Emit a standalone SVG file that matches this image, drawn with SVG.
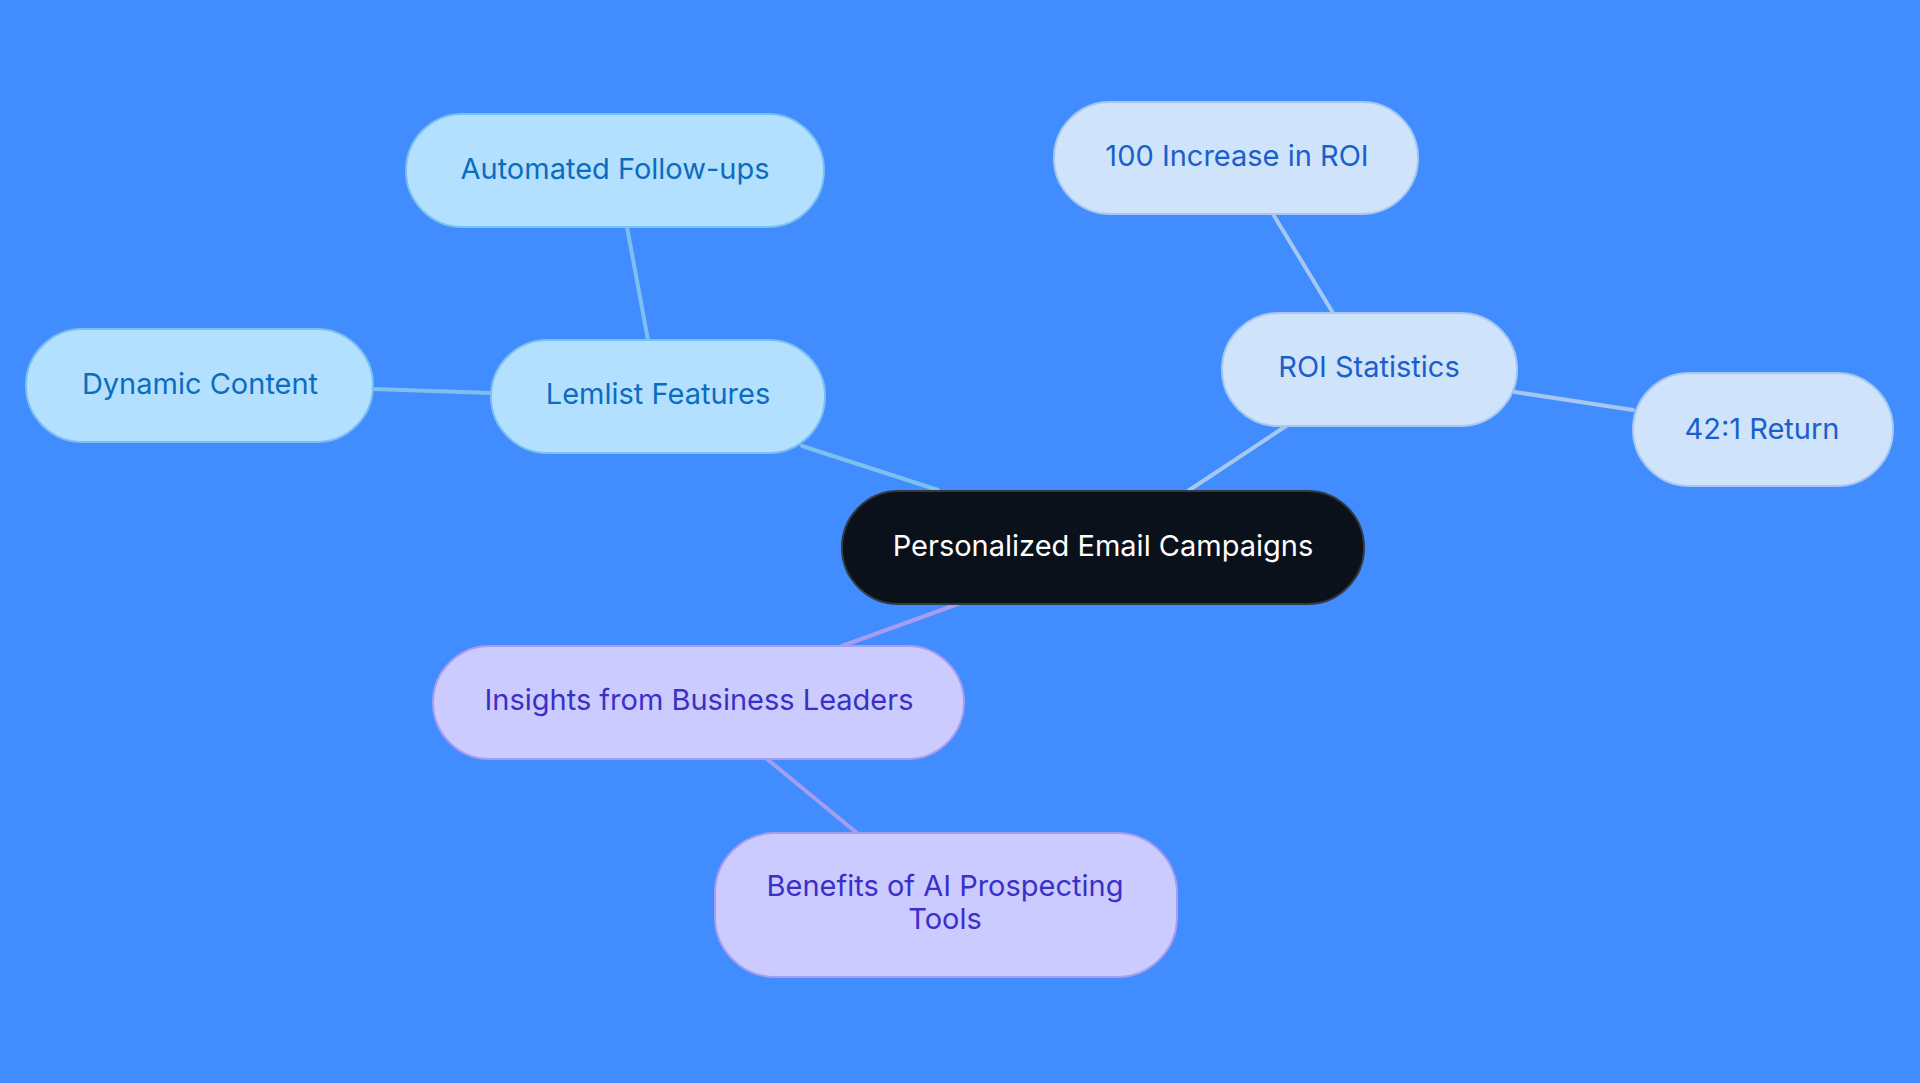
<svg xmlns="http://www.w3.org/2000/svg" width="1920" height="1083" viewBox="0 0 1920 1083">
<style>
text{font-family:Inter,"Noto Sans","Liberation Sans",sans-serif;font-size:29px;text-anchor:middle}
.c{stroke-width:4;fill:none;stroke-linecap:round}
.lb{fill:#b3e0ff;stroke:#7cc0f0;stroke-width:2}
.lt{fill:#0b6cc0}
.rb{fill:#cfe3fb;stroke:#a6c8f0;stroke-width:2}
.rt{fill:#1a5fcc}
.pb{fill:#cbcbff;stroke:#a59df0;stroke-width:2}
.pt{fill:#3a30c8}
</style>
<rect width="1920" height="1083" fill="#418cff"/>
<g id="connectors">
<line class="c" x1="938" y1="490" x2="802" y2="446" stroke="#7cc0f0"/>
<line class="c" x1="648" y1="340" x2="627" y2="227" stroke="#7cc0f0"/>
<line class="c" x1="491" y1="393" x2="373" y2="389" stroke="#7cc0f0"/>
<line class="c" x1="1188" y1="491" x2="1286" y2="426" stroke="#a6c8f0"/>
<line class="c" x1="1333" y1="313" x2="1273" y2="214" stroke="#a6c8f0"/>
<line class="c" x1="1515" y1="392" x2="1633" y2="410" stroke="#a6c8f0"/>
<line class="c" x1="958" y1="604" x2="842" y2="646" stroke="#a59df0"/>
<line class="c" x1="767" y1="759" x2="857" y2="833" stroke="#a59df0"/>
</g>
<g id="center">
<rect x="842" y="491" width="522" height="113" rx="56.5" fill="#0b111b" stroke="#333a44" stroke-width="2"/>
<text x="1103" y="556" fill="#ffffff">Personalized Email Campaigns</text>
</g>
<g id="lemlist">
<rect class="lb" x="491" y="340" width="334" height="113" rx="56.5"/>
<text class="lt" x="658" y="404">Lemlist Features</text>
</g>
<g id="automated">
<rect class="lb" x="406" y="114" width="418" height="113" rx="56.5"/>
<text class="lt" x="615" y="179">Automated Follow-ups</text>
</g>
<g id="dynamic">
<rect class="lb" x="26" y="329" width="347" height="113" rx="56.5"/>
<text class="lt" x="200" y="394">Dynamic Content</text>
</g>
<g id="roi">
<rect class="rb" x="1222" y="313" width="295" height="113" rx="56.5"/>
<text class="rt" x="1369" y="377">ROI Statistics</text>
</g>
<g id="increase">
<rect class="rb" x="1054" y="102" width="364" height="112" rx="56"/>
<text class="rt" x="1237" y="166">100 Increase in ROI</text>
</g>
<g id="return">
<rect class="rb" x="1633" y="373" width="260" height="113" rx="56.5"/>
<text class="rt" x="1762" y="439">42:1 Return</text>
</g>
<g id="insights">
<rect class="pb" x="433" y="646" width="531" height="113" rx="56.5"/>
<text class="pt" x="699" y="710">Insights from Business Leaders</text>
</g>
<g id="benefits">
<rect class="pb" x="715" y="833" width="462" height="144" rx="60"/>
<text class="pt" x="945" y="896">Benefits of AI Prospecting</text>
<text class="pt" x="945" y="929">Tools</text>
</g>
</svg>
